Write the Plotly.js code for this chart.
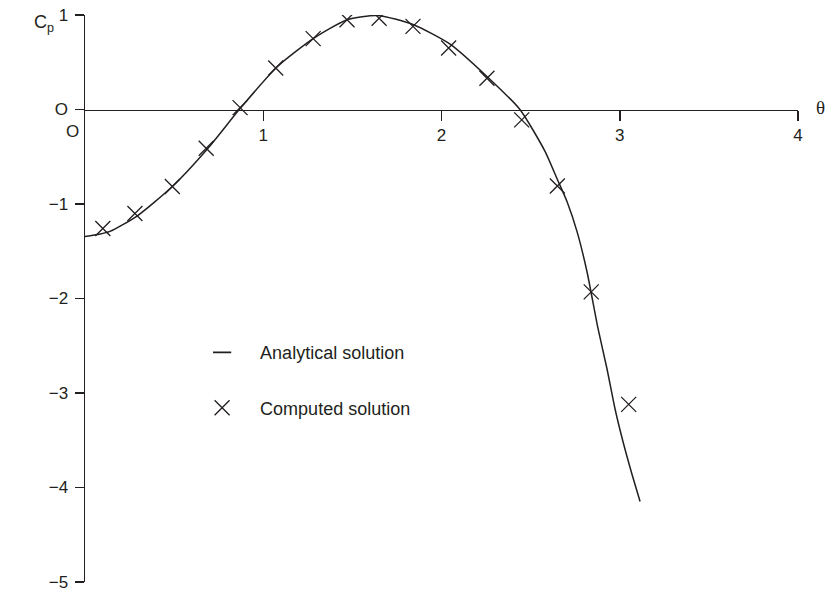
<!DOCTYPE html>
<html>
<head>
<meta charset="utf-8">
<script src="https://cdn.plot.ly/plotly-3.0.1.min.js"></script>
<style>
  html, body { margin: 0; padding: 0; background: #fff; }
  #chart { width: 825px; height: 591px; }
</style>
</head>
<body>
<div id="chart"></div>
<script>
// analytical curve
const thetaAnalytical = [0, 0.08, 0.14, 0.29, 0.49, 0.69, 0.87, 1.08, 1.28, 1.47, 1.64, 1.84, 2.05, 2.255, 2.44, 2.58, 2.65, 2.704, 2.76, 2.816, 2.878, 2.928, 2.973, 3.018, 3.069, 3.114];
const cpAnalytical = [-1.344, -1.32, -1.29, -1.13, -0.815, -0.41, 0.01, 0.455, 0.75, 0.95, 0.995, 0.90, 0.69, 0.35, 0.0, -0.44, -0.74, -0.974, -1.29, -1.714, -2.317, -2.741, -3.164, -3.513, -3.862, -4.148];

// computed points
const thetaComputed = [0.10, 0.28, 0.49, 0.68, 0.87, 1.07, 1.28, 1.47, 1.65, 1.84, 2.04, 2.255, 2.45, 2.65, 2.84, 3.05];
const cpComputed = [-1.26, -1.10, -0.815, -0.41, 0.02, 0.44, 0.75, 0.95, 0.965, 0.88, 0.65, 0.33, -0.11, -0.81, -1.93, -3.12];

const yTickVals = [-5, -4, -3, -2, -1, 0, 1];
const yTickText = ["\u22125", "\u22124", "\u22123", "\u22122", "\u22121", "O", "1"];
const xTickVals = [1, 2, 3, 4];

const ink = "#231f20";
const font = "Liberation Sans, Arial, sans-serif";

const traces = [
  {
    x: thetaAnalytical,
    y: cpAnalytical,
    mode: "lines",
    line: { color: ink, width: 1.5, shape: "spline", smoothing: 0.6 },
    showlegend: false,
    hoverinfo: "skip",
  },
  {
    // legend entry for the analytical curve (short dash symbol)
    x: [null],
    y: [null],
    mode: "markers",
    name: "Analytical solution",
    legendgroup: "a",
    marker: { symbol: "line-ew", size: 13, line: { color: ink, width: 1.8 } },
  },
  {
    x: thetaComputed,
    y: cpComputed,
    mode: "markers",
    name: "Computed solution",
    legendgroup: "b",
    marker: { symbol: "x-thin", size: 15, color: ink, line: { color: ink, width: 1.3 } },
  },
];

const layout = {
  width: 825,
  height: 591,
  margin: { l: 85, r: 27, t: 15, b: 9 },
  paper_bgcolor: "#fff",
  plot_bgcolor: "#fff",
  font: { family: font, size: 17, color: ink },
  xaxis: {
    range: [0, 4],
    anchor: "free",
    position: 5 / 6,
    showline: true,
    linecolor: ink,
    linewidth: 1.5,
    ticks: "outside",
    ticklen: 10,
    tickwidth: 1.5,
    tickcolor: ink,
    tickvals: xTickVals,
    tickfont: { family: font, size: 17, color: ink },
    showgrid: false,
    zeroline: false,
  },
  yaxis: {
    range: [-5, 1],
    showline: true,
    linecolor: ink,
    linewidth: 1.5,
    ticks: "outside",
    ticklen: 9,
    tickwidth: 1.5,
    tickcolor: ink,
    tickvals: yTickVals,
    ticktext: yTickText,
    tickfont: { family: font, size: 17, color: ink },
    ticklabelstandoff: 3,
    ticklabeloverflow: "allow",
    showgrid: false,
    zeroline: false,
  },
  showlegend: true,
  legend: {
    x: 0.139,
    xanchor: "left",
    y: 0.437,
    yanchor: "top",
    bgcolor: "rgba(0,0,0,0)",
    itemwidth: 66,
    traceorder: "grouped",
    tracegroupgap: 29,
    font: { family: font, size: 18, color: ink },
  },
  annotations: [
    {
      xref: "paper", yref: "paper", x: -0.058, y: 0.985,
      xanchor: "center", yanchor: "middle",
      text: "C<sub>p</sub>", showarrow: false,
      font: { family: font, size: 18, color: ink },
    },
    {
      xref: "paper", yref: "y", x: -0.018, y: -0.23,
      xanchor: "center", yanchor: "middle",
      text: "O", showarrow: false,
      font: { family: font, size: 17, color: ink },
    },
    {
      xref: "paper", yref: "y", x: 1.0224, y: 0.02,
      xanchor: "left", yanchor: "middle",
      text: "\u03b8", showarrow: false,
      font: { family: "Liberation Serif, serif", size: 19, color: ink },
    },
  ],
};

Plotly.newPlot("chart", traces, layout, { displayModeBar: false, staticPlot: true });
</script>
</body>
</html>
